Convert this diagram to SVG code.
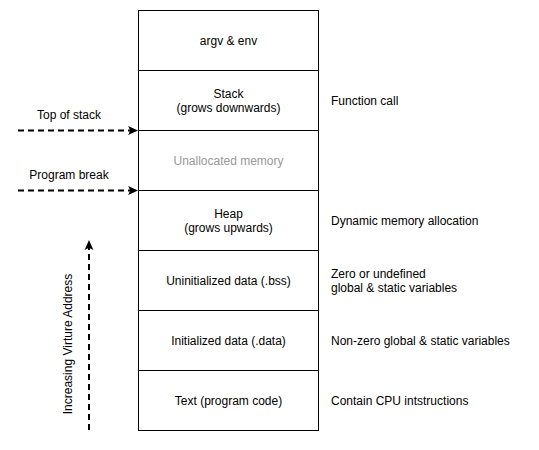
<svg xmlns="http://www.w3.org/2000/svg" width="539" height="450" viewBox="0 0 539 450">
<style>
.box{fill:#fff;stroke:#000;stroke-width:1}
text{font-family:"Liberation Sans",Arial,sans-serif;font-size:12px;fill:#000}
.c{text-anchor:middle}
.g{fill:#999}
.arr{fill:none;stroke:#000;stroke-width:2;stroke-dasharray:6 4}
</style>
<defs>
<marker id="ah" viewBox="0 0 10 10" refX="9" refY="5" markerWidth="11" markerHeight="11" markerUnits="userSpaceOnUse" orient="auto">
<path d="M0,1 L9,5 L0,9 L2,5 Z" fill="#000"/>
</marker>
</defs>
<rect width="539" height="450" fill="#fff"/>
<g id="argv"><rect class="box" x="138.5" y="10.5" width="180" height="60"/><text class="c" x="228.5" y="45">argv &amp; env</text></g>
<g id="stack"><rect class="box" x="138.5" y="70.5" width="180" height="60"/><text class="c" x="228.5" y="98">Stack</text><text class="c" x="228.5" y="112">(grows downwards)</text></g>
<g id="unalloc"><rect class="box" x="138.5" y="130.5" width="180" height="60"/><text class="c g" x="228.5" y="165">Unallocated memory</text></g>
<g id="heap"><rect class="box" x="138.5" y="190.5" width="180" height="60"/><text class="c" x="228.5" y="218">Heap</text><text class="c" x="228.5" y="232">(grows upwards)</text></g>
<g id="bss"><rect class="box" x="138.5" y="250.5" width="180" height="60"/><text class="c" x="228.5" y="285">Uninitialized data (.bss)</text></g>
<g id="data"><rect class="box" x="138.5" y="310.5" width="180" height="60"/><text class="c" x="228.5" y="345">Initialized data (.data)</text></g>
<g id="text"><rect class="box" x="138.5" y="370.5" width="180" height="60"/><text class="c" x="228.5" y="405">Text (program code)</text></g>
<g id="labels">
<text x="331" y="105">Function call</text>
<text x="331" y="225">Dynamic memory allocation</text>
<text x="331" y="278">Zero or undefined</text>
<text x="331" y="292">global &amp; static variables</text>
<text x="331" y="345">Non-zero global &amp; static variables</text>
<text x="331" y="405">Contain CPU intstructions</text>
<text class="c" x="69" y="119">Top of stack</text>
<text class="c" x="69" y="179">Program break</text>
<text class="c" transform="translate(72,344) rotate(-90)">Increasing Virture Address</text>
</g>
<g id="connectors">
<path class="arr" d="M18,130.5 L138,130.5" marker-end="url(#ah)"/>
<path class="arr" d="M18,190.5 L138,190.5" marker-end="url(#ah)"/>
<path class="arr" d="M89,430 L89,240" marker-end="url(#ah)"/>
</g>
</svg>
